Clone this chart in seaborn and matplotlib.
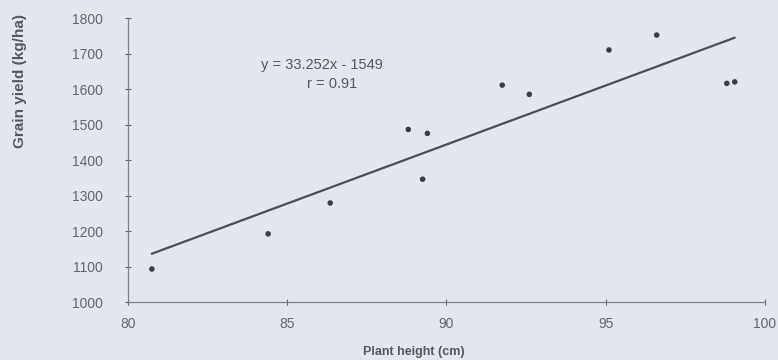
import numpy as np
import pandas as pd
import matplotlib
matplotlib.use("Agg")
import matplotlib.pyplot as plt
import seaborn as sns

# values
plant_height = [80.75, 84.4, 86.35, 88.8, 89.4, 89.25, 91.75, 92.6, 95.1, 96.6, 98.8, 99.05]
grain_yield = [1093, 1192, 1279, 1486, 1475, 1346, 1611, 1585, 1710, 1752, 1616, 1620]
slope = 33.252
intercept = -1549
r_value = 0.91

x_ticks = [80, 85, 90, 95, 100]
y_ticks = [1000, 1100, 1200, 1300, 1400, 1500, 1600, 1700, 1800]


def main():
    sns.set_style("ticks")
    plt.rcParams["font.family"] = ["Liberation Sans", "DejaVu Sans"]

    df = pd.DataFrame({"height": plant_height, "yield": grain_yield})
    line_x = np.array([min(plant_height), max(plant_height)])
    trend = pd.DataFrame({"height": line_x, "yield": slope * line_x + intercept})

    bg = "#e3e7ed"
    txt = "#55595e"
    fig = plt.figure(figsize=(7.78, 3.6), dpi=100, facecolor=bg)
    ax = fig.add_axes([0.1645, 0.161, 0.8188, 0.789])
    ax.set_facecolor(bg)

    sns.lineplot(data=trend, x="height", y="yield", color="#4a4d52", lw=1.6, ax=ax)
    sns.scatterplot(data=df, x="height", y="yield", marker="o", s=16,
                    color="#3a3d42", edgecolor="none", ax=ax)

    ax.set_xlim(80, 100)
    ax.set_ylim(1000, 1800)
    ax.set_xticks(x_ticks)
    ax.set_yticks(y_ticks)
    ax.tick_params(labelsize=10, colors="#63676c", length=4, width=0.8, direction="inout")
    ax.tick_params(axis="y", pad=16)
    ax.tick_params(axis="x", pad=9)
    for s in ["top", "right"]:
        ax.spines[s].set_visible(False)
    for s in ["left", "bottom"]:
        ax.spines[s].set_color("#7d8187")
        ax.spines[s].set_linewidth(0.9)

    ax.set_xlabel("Plant height (cm)", fontsize=9, fontweight="bold", color=txt)
    ax.xaxis.set_label_coords(0.448, -0.155)
    ax.set_ylabel("Grain yield (kg/ha)", fontsize=11, fontweight="bold", color=txt)
    ax.yaxis.set_label_coords(-0.158, 0.778)

    ax.text(86.1, 1667, f"y = {slope}x - {abs(intercept)}", fontsize=10.5, color=txt,
            ha="center", va="center")
    ax.text(86.4, 1614, f"r = {r_value}", fontsize=10.5, color=txt, ha="center", va="center")

    fig.savefig("out.png", dpi=100, facecolor=bg)


if __name__ == "__main__":
    main()
